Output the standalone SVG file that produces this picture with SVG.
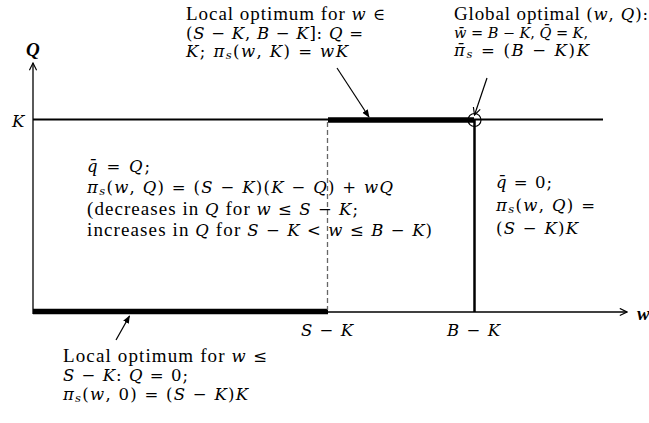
<svg xmlns="http://www.w3.org/2000/svg" width="649" height="423" viewBox="0 0 649 423">
<style>
text{font-family:"Liberation Serif","Times New Roman",serif;font-size:19px;fill:#000}
.m{font-family:"DejaVu Serif",serif;font-style:italic;font-size:16.5px}
.o{font-family:"DejaVu Serif",serif;font-size:16.5px}
.s{font-family:"DejaVu Serif",serif;font-style:italic;font-size:11.5px}
.g .m,.g .o{font-size:14.5px}
.ax{font-family:"Liberation Serif",serif;font-weight:bold;font-style:italic;font-size:19px}
.thin{stroke:#000;stroke-width:1.3;fill:none}
</style>
<defs>
<marker id="vopen" viewBox="0 0 10 10" refX="9" refY="5" markerWidth="9" markerHeight="9" markerUnits="userSpaceOnUse" orient="auto">
<path d="M1,1 L9,5 L1,9" fill="none" stroke="#000" stroke-width="1.3"/>
</marker>
<marker id="fill" viewBox="0 0 10 10" refX="9" refY="5" markerWidth="8" markerHeight="8" markerUnits="userSpaceOnUse" orient="auto">
<path d="M0,1 L10,5 L0,9 Z" fill="#000"/>
</marker>
</defs>
<g id="axes">
<line x1="33" y1="314" x2="33" y2="63" class="thin" marker-end="url(#vopen)"/>
<line x1="33" y1="312" x2="627" y2="312" class="thin" marker-end="url(#vopen)"/>
<text x="26" y="56" class="ax">Q</text>
<text x="637" y="320" class="ax">w</text>
<text x="12" y="127" class="m">K</text>
<text x="301" y="336" textLength="52"><tspan class="m">S</tspan><tspan class="o"> − </tspan><tspan class="m">K</tspan></text>
<text x="447" y="336" textLength="53"><tspan class="m">B</tspan><tspan class="o"> − </tspan><tspan class="m">K</tspan></text>
</g>
<g id="lines">
<line x1="33" y1="119.5" x2="603" y2="119.5" stroke="#000" stroke-width="2"/>
<line x1="328" y1="120" x2="474" y2="120" stroke="#000" stroke-width="5.5"/>
<line x1="33" y1="311.5" x2="328" y2="311.5" stroke="#000" stroke-width="5.5"/>
<line x1="327.5" y1="122" x2="327.5" y2="310" stroke="#666" stroke-width="1.3" stroke-dasharray="5,3"/>
<line x1="474.5" y1="120" x2="474.5" y2="312" stroke="#000" stroke-width="2.5"/>
<circle cx="474.5" cy="120" r="6.5" fill="none" stroke="#000" stroke-width="1.2"/>
</g>
<g id="connectors">
<line x1="337" y1="68" x2="369" y2="117" stroke="#000" stroke-width="1.2" marker-end="url(#fill)"/>
<line x1="487" y1="78" x2="474.5" y2="115" stroke="#000" stroke-width="1.2" marker-end="url(#vopen)"/>
<line x1="116" y1="340" x2="129.5" y2="316" stroke="#000" stroke-width="1.2" marker-end="url(#fill)"/>
</g>
<g id="label-local-top">
<text x="186" y="20" textLength="199">Local optimum for <tspan class="m">w</tspan><tspan class="o"> ∈</tspan></text>
<text x="186" y="39" textLength="177"><tspan class="o">(</tspan><tspan class="m">S</tspan><tspan class="o"> − </tspan><tspan class="m">K</tspan><tspan class="o">, </tspan><tspan class="m">B</tspan><tspan class="o"> − </tspan><tspan class="m">K</tspan><tspan class="o">]: </tspan><tspan class="m">Q</tspan><tspan class="o"> =</tspan></text>
<text x="186" y="57" textLength="162"><tspan class="m">K</tspan><tspan class="o">; </tspan><tspan class="m">π</tspan><tspan class="s" dy="2">s</tspan><tspan class="o" dy="-2">(</tspan><tspan class="m">w</tspan><tspan class="o">, </tspan><tspan class="m">K</tspan><tspan class="o">) = </tspan><tspan class="m">wK</tspan></text>
</g>
<g id="label-global">
<text x="454" y="20" textLength="194">Global optimal <tspan class="o">(</tspan><tspan class="m">w</tspan><tspan class="o">, </tspan><tspan class="m">Q</tspan><tspan class="o">):</tspan></text>
<text x="454" y="38" textLength="134" class="g"><tspan class="m">w̄</tspan><tspan class="o"> = </tspan><tspan class="m">B</tspan><tspan class="o"> − </tspan><tspan class="m">K</tspan><tspan class="o">, </tspan><tspan class="m">Q̄</tspan><tspan class="o"> = </tspan><tspan class="m">K</tspan><tspan class="o">,</tspan></text>
<text x="454" y="56" textLength="135"><tspan class="m">π̄</tspan><tspan class="s" dy="2">s</tspan><tspan class="o" dy="-2"> = (</tspan><tspan class="m">B</tspan><tspan class="o"> − </tspan><tspan class="m">K</tspan><tspan class="o">)</tspan><tspan class="m">K</tspan></text>
</g>
<g id="label-middle">
<text x="87" y="172" textLength="63"><tspan class="m">q̄</tspan><tspan class="o"> = </tspan><tspan class="m">Q</tspan><tspan class="o">;</tspan></text>
<text x="87" y="193" textLength="306"><tspan class="m">π</tspan><tspan class="s" dy="2">s</tspan><tspan class="o" dy="-2">(</tspan><tspan class="m">w</tspan><tspan class="o">, </tspan><tspan class="m">Q</tspan><tspan class="o">) = (</tspan><tspan class="m">S</tspan><tspan class="o"> − </tspan><tspan class="m">K</tspan><tspan class="o">)(</tspan><tspan class="m">K</tspan><tspan class="o"> − </tspan><tspan class="m">Q</tspan><tspan class="o">) + </tspan><tspan class="m">wQ</tspan></text>
<text x="87" y="215" textLength="271">(decreases in <tspan class="m">Q</tspan> for <tspan class="m">w</tspan><tspan class="o"> ≤ </tspan><tspan class="m">S</tspan><tspan class="o"> − </tspan><tspan class="m">K</tspan><tspan class="o">;</tspan></text>
<text x="87" y="236" textLength="345">increases in <tspan class="m">Q</tspan> for <tspan class="m">S</tspan><tspan class="o"> − </tspan><tspan class="m">K</tspan><tspan class="o"> &lt; </tspan><tspan class="m">w</tspan><tspan class="o"> ≤ </tspan><tspan class="m">B</tspan><tspan class="o"> − </tspan><tspan class="m">K</tspan><tspan class="o">)</tspan></text>
</g>
<g id="label-right">
<text x="496" y="188" textLength="56"><tspan class="m">q̄</tspan><tspan class="o"> = 0;</tspan></text>
<text x="496" y="211" textLength="99"><tspan class="m">π</tspan><tspan class="s" dy="2">s</tspan><tspan class="o" dy="-2">(</tspan><tspan class="m">w</tspan><tspan class="o">, </tspan><tspan class="m">Q</tspan><tspan class="o">) =</tspan></text>
<text x="496" y="234" textLength="82"><tspan class="o">(</tspan><tspan class="m">S</tspan><tspan class="o"> − </tspan><tspan class="m">K</tspan><tspan class="o">)</tspan><tspan class="m">K</tspan></text>
</g>
<g id="label-local-bottom">
<text x="63" y="362" textLength="204">Local optimum for <tspan class="m">w</tspan><tspan class="o"> ≤</tspan></text>
<text x="63" y="381" textLength="125"><tspan class="m">S</tspan><tspan class="o"> − </tspan><tspan class="m">K</tspan><tspan class="o">: </tspan><tspan class="m">Q</tspan><tspan class="o"> = 0;</tspan></text>
<text x="63" y="400" textLength="185"><tspan class="m">π</tspan><tspan class="s" dy="2">s</tspan><tspan class="o" dy="-2">(</tspan><tspan class="m">w</tspan><tspan class="o">, 0) = (</tspan><tspan class="m">S</tspan><tspan class="o"> − </tspan><tspan class="m">K</tspan><tspan class="o">)</tspan><tspan class="m">K</tspan></text>
</g>
</svg>
